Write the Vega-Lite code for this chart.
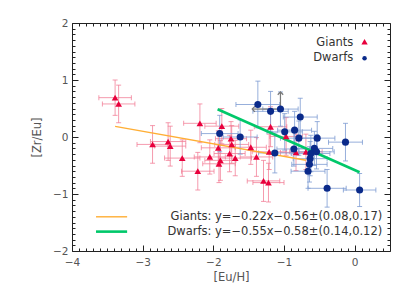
{
  "$schema": "https://vega.github.io/schema/vega-lite/v6.json",
  "width": 318,
  "height": 228,
  "autosize": "none",
  "padding": {"left": 72, "top": 23, "right": 21, "bottom": 46},
  "background": "white",
  "config": {
    "view": {"stroke": "#222222", "strokeWidth": 1},
    "font": "DejaVu Sans",
    "axis": {"grid": false, "domain": false, "labelFont": "DejaVu Sans", "titleFont": "DejaVu Sans", "labelColor": "#555555", "titleColor": "#555555", "tickColor": "#222222", "labelFontSize": 10.5, "titleFontSize": 11.5, "titleFontWeight": "normal", "labelFlush": false, "labelOverlap": false, "labelBound": false}
  },
  "datasets": {
    "giants": [
      {"x": -3.39, "y": 0.69, "ex": 0.23, "ey": 0.31},
      {"x": -3.34, "y": 0.58, "ex": 0.23, "ey": 0.33},
      {"x": -2.86, "y": -0.13, "ex": 0.22, "ey": 0.33},
      {"x": -2.64, "y": -0.08, "ex": 0.25, "ey": 0.33},
      {"x": -2.61, "y": -0.16, "ex": 0.22, "ey": 0.35},
      {"x": -2.44, "y": -0.37, "ex": 0.25, "ey": 0.32},
      {"x": -2.22, "y": -0.6, "ex": 0.23, "ey": 0.33},
      {"x": -2.19, "y": 0.24, "ex": 0.23, "ey": 0.34},
      {"x": -2.05, "y": -0.35, "ex": 0.22, "ey": 0.3},
      {"x": -1.93, "y": -0.19, "ex": 0.24, "ey": 0.3},
      {"x": -1.92, "y": -0.47, "ex": 0.23, "ey": 0.33},
      {"x": -1.9, "y": -0.41, "ex": 0.22, "ey": 0.35},
      {"x": -1.88, "y": 0.19, "ex": 0.24, "ey": 0.31},
      {"x": -1.75, "y": -0.03, "ex": 0.22, "ey": 0.3},
      {"x": -1.74, "y": -0.13, "ex": 0.24, "ey": 0.33},
      {"x": -1.77, "y": -0.29, "ex": 0.22, "ey": 0.32},
      {"x": -1.69, "y": -0.37, "ex": 0.23, "ey": 0.31},
      {"x": -1.47, "y": -0.18, "ex": 0.22, "ey": 0.3},
      {"x": -1.39, "y": -0.35, "ex": 0.23, "ey": 0.34},
      {"x": -1.29, "y": -0.77, "ex": 0.23, "ey": 0.36},
      {"x": -1.22, "y": -0.8, "ex": 0.22, "ey": 0.34},
      {"x": -1.21, "y": -0.26, "ex": 0.24, "ey": 0.31},
      {"x": -1.19, "y": 0.18, "ex": 0.23, "ey": 0.35},
      {"x": -0.97, "y": 0.01, "ex": 0.23, "ey": 0.33},
      {"x": -0.83, "y": -0.27, "ex": 0.22, "ey": 0.32},
      {"x": -0.69, "y": -0.26, "ex": 0.23, "ey": 0.31}
    ],
    "dwarfs": [
      {"x": -1.91, "y": 0.06, "ex": 0.26, "ey": 0.32},
      {"x": -1.62, "y": 0.0, "ex": 0.24, "ey": 0.3},
      {"x": -1.37, "y": 0.57, "ex": 0.31, "ey": 0.41},
      {"x": -1.19, "y": 0.45, "ex": 0.25, "ey": 0.35},
      {"x": -1.05, "y": 0.49, "ex": 0.25, "ey": 0.3},
      {"x": -1.13, "y": -0.28, "ex": 0.23, "ey": 0.35},
      {"x": -0.99, "y": 0.09, "ex": 0.25, "ey": 0.32},
      {"x": -0.85, "y": 0.12, "ex": 0.24, "ey": 0.33},
      {"x": -0.79, "y": -0.02, "ex": 0.26, "ey": 0.3},
      {"x": -0.77, "y": 0.35, "ex": 0.24, "ey": 0.33},
      {"x": -0.86, "y": -0.21, "ex": 0.24, "ey": 0.3},
      {"x": -0.53, "y": -0.02, "ex": 0.25, "ey": 0.29},
      {"x": -0.57, "y": -0.2, "ex": 0.26, "ey": 0.3},
      {"x": -0.62, "y": -0.29, "ex": 0.27, "ey": 0.32},
      {"x": -0.63, "y": -0.38, "ex": 0.24, "ey": 0.3},
      {"x": -0.64, "y": -0.48, "ex": 0.25, "ey": 0.31},
      {"x": -0.66, "y": -0.6, "ex": 0.24, "ey": 0.3},
      {"x": -0.54, "y": -0.26, "ex": 0.25, "ey": 0.3},
      {"x": -0.13, "y": -0.09, "ex": 0.24, "ey": 0.33},
      {"x": -0.39, "y": -0.9, "ex": 0.27, "ey": 0.33},
      {"x": 0.07, "y": -0.93, "ex": 0.23, "ey": 0.29}
    ],
    "limit": [
      {"x": -1.05, "y": 0.49, "x2": -1.05, "y2": 0.79, "dir": "up"},
      {"x": -1.05, "y": 0.49, "x2": -1.45, "y2": 0.49, "dir": "left"}
    ],
    "fits": [
      {"series": "Giants", "part": "fit", "x": -3.39, "y": 0.186},
      {"series": "Giants", "part": "fit", "x": -0.69, "y": -0.408},
      {"series": "Dwarfs", "part": "fit", "x": -1.94, "y": 0.487},
      {"series": "Dwarfs", "part": "fit", "x": 0.07, "y": -0.619},
      {"series": "Giants", "part": "key", "x": -3.66, "y": -1.4},
      {"series": "Giants", "part": "key", "x": -3.22, "y": -1.4},
      {"series": "Dwarfs", "part": "key", "x": -3.66, "y": -1.66},
      {"series": "Dwarfs", "part": "key", "x": -3.22, "y": -1.66}
    ],
    "texts": [
      {"x": -0.02, "y": 1.65, "text": "Giants"},
      {"x": -0.02, "y": 1.38, "text": "Dwarfs"},
      {"x": 0.39, "y": -1.4, "text": "Giants: y=−0.22x−0.56±(0.08,0.17)"},
      {"x": 0.39, "y": -1.66, "text": "Dwarfs: y=−0.55x−0.58±(0.14,0.12)"}
    ],
    "keys": [
      {"x": 0.14, "y": 1.67, "series": "Giants"},
      {"x": 0.14, "y": 1.38, "series": "Dwarfs"}
    ],
    "origin": [{"x": 0, "y": 0}]
  },
  "resolve": {"axis": {"x": "independent", "y": "independent"}},
  "layer": [
    {
      "data": {"name": "origin"},
      "mark": {"type": "point", "opacity": 0},
      "encoding": {
        "x": {"field": "x", "type": "quantitative", "scale": {"domain": [-4, 0.5], "nice": false, "zero": false},
          "axis": {"orient": "bottom", "values": [-4, -3, -2, -1, 0], "format": "d", "tickSize": -6, "labelPadding": 12, "title": "[Eu/H]", "titleY": 20, "titleBaseline": "top"}},
        "y": {"field": "y", "type": "quantitative", "scale": {"domain": [-2, 2], "nice": false, "zero": false},
          "axis": {"orient": "left", "values": [-2, -1, 0, 1, 2], "format": "d", "tickSize": -6, "labelPadding": 10, "title": "[Zr/Eu]", "titleX": -41, "titleBaseline": "top"}}
      }
    },
    {
      "data": {"name": "origin"},
      "mark": {"type": "point", "opacity": 0},
      "encoding": {
        "x": {"field": "x", "type": "quantitative",
          "axis": {"orient": "bottom", "values": [-3.9,-3.8,-3.7,-3.6,-3.5,-3.4,-3.3,-3.2,-3.1,-2.9,-2.8,-2.7,-2.6,-2.5,-2.4,-2.3,-2.2,-2.1,-1.9,-1.8,-1.7,-1.6,-1.5,-1.4,-1.3,-1.2,-1.1,-0.9,-0.8,-0.7,-0.6,-0.5,-0.4,-0.3,-0.2,-0.1,0.1,0.2,0.3,0.4], "tickSize": -3, "labels": false, "title": null}},
        "y": {"field": "y", "type": "quantitative",
          "axis": {"orient": "left", "values": [-1.9,-1.8,-1.7,-1.6,-1.5,-1.4,-1.3,-1.2,-1.1,-0.9,-0.8,-0.7,-0.6,-0.5,-0.4,-0.3,-0.2,-0.1,0.1,0.2,0.3,0.4,0.5,0.6,0.7,0.8,0.9,1.1,1.2,1.3,1.4,1.5,1.6,1.7,1.8,1.9], "tickSize": -3, "labels": false, "title": null}}
      }
    },
    {
      "data": {"name": "origin"},
      "mark": {"type": "point", "opacity": 0},
      "encoding": {
        "x": {"field": "x", "type": "quantitative",
          "axis": {"orient": "top", "values": [-4, -3, -2, -1, 0], "tickSize": -6, "labels": false, "title": null}},
        "y": {"field": "y", "type": "quantitative",
          "axis": {"orient": "right", "values": [-2, -1, 0, 1, 2], "tickSize": -6, "labels": false, "title": null}}
      }
    },
    {
      "data": {"name": "origin"},
      "mark": {"type": "point", "opacity": 0},
      "encoding": {
        "x": {"field": "x", "type": "quantitative",
          "axis": {"orient": "top", "values": [-3.9,-3.8,-3.7,-3.6,-3.5,-3.4,-3.3,-3.2,-3.1,-2.9,-2.8,-2.7,-2.6,-2.5,-2.4,-2.3,-2.2,-2.1,-1.9,-1.8,-1.7,-1.6,-1.5,-1.4,-1.3,-1.2,-1.1,-0.9,-0.8,-0.7,-0.6,-0.5,-0.4,-0.3,-0.2,-0.1,0.1,0.2,0.3,0.4], "tickSize": -3, "labels": false, "title": null}},
        "y": {"field": "y", "type": "quantitative",
          "axis": {"orient": "right", "values": [-1.9,-1.8,-1.7,-1.6,-1.5,-1.4,-1.3,-1.2,-1.1,-0.9,-0.8,-0.7,-0.6,-0.5,-0.4,-0.3,-0.2,-0.1,0.1,0.2,0.3,0.4,0.5,0.6,0.7,0.8,0.9,1.1,1.2,1.3,1.4,1.5,1.6,1.7,1.8,1.9], "tickSize": -3, "labels": false, "title": null}}
      }
    },
    {
      "data": {"name": "giants"},
      "mark": {"type": "errorbar", "ticks": {"size": 5}, "color": "#f27a93", "opacity": 0.75, "thickness": 1},
      "encoding": {
        "x": {"field": "x", "type": "quantitative", "axis": null},
        "xError": {"field": "ex"},
        "y": {"field": "y", "type": "quantitative", "axis": null}
      }
    },
    {
      "data": {"name": "giants"},
      "mark": {"type": "errorbar", "ticks": {"size": 5}, "color": "#f27a93", "opacity": 0.75, "thickness": 1},
      "encoding": {
        "y": {"field": "y", "type": "quantitative", "axis": null},
        "yError": {"field": "ey"},
        "x": {"field": "x", "type": "quantitative", "axis": null}
      }
    },
    {
      "data": {"name": "dwarfs"},
      "mark": {"type": "errorbar", "ticks": {"size": 5}, "color": "#7d9bd2", "opacity": 0.8, "thickness": 1},
      "encoding": {
        "x": {"field": "x", "type": "quantitative", "axis": null},
        "xError": {"field": "ex"},
        "y": {"field": "y", "type": "quantitative", "axis": null}
      }
    },
    {
      "data": {"name": "dwarfs"},
      "mark": {"type": "errorbar", "ticks": {"size": 5}, "color": "#7d9bd2", "opacity": 0.8, "thickness": 1},
      "encoding": {
        "y": {"field": "y", "type": "quantitative", "axis": null},
        "yError": {"field": "ey"},
        "x": {"field": "x", "type": "quantitative", "axis": null}
      }
    },
    {
      "data": {"name": "limit"},
      "mark": {"type": "rule", "color": "#777777", "strokeWidth": 1.2},
      "encoding": {
        "x": {"field": "x", "type": "quantitative", "axis": null},
        "y": {"field": "y", "type": "quantitative", "axis": null},
        "x2": {"field": "x2"},
        "y2": {"field": "y2"}
      }
    },
    {
      "data": {"name": "limit"},
      "mark": {"type": "point", "filled": false, "color": "#777777", "strokeWidth": 1.2, "size": 30, "opacity": 1},
      "encoding": {
        "x": {"field": "x2", "type": "quantitative", "axis": null},
        "y": {"field": "y2", "type": "quantitative", "axis": null},
        "shape": {"field": "dir", "type": "nominal", "legend": null,
          "scale": {"domain": ["up", "left"], "range": ["M-1,1L0,0L1,1", "M1,-1L0,0L1,1"]}}
      }
    },
    {
      "data": {"name": "fits"},
      "mark": {"type": "line"},
      "encoding": {
        "x": {"field": "x", "type": "quantitative", "axis": null},
        "y": {"field": "y", "type": "quantitative", "axis": null},
        "detail": {"field": "part"},
        "color": {"field": "series", "type": "nominal", "legend": null, "scale": {"domain": ["Giants", "Dwarfs"], "range": ["#ffae35", "#00c86a"]}},
        "strokeWidth": {"field": "series", "type": "nominal", "legend": null, "scale": {"domain": ["Giants", "Dwarfs"], "range": [1.4, 2.6]}}
      }
    },
    {
      "data": {"name": "giants"},
      "mark": {"type": "point", "shape": "triangle-up", "filled": true, "color": "#e8003c", "size": 45, "opacity": 1},
      "encoding": {
        "x": {"field": "x", "type": "quantitative", "axis": null},
        "y": {"field": "y", "type": "quantitative", "axis": null}
      }
    },
    {
      "data": {"name": "dwarfs"},
      "mark": {"type": "circle", "color": "#0a2a8a", "size": 50, "opacity": 1},
      "encoding": {
        "x": {"field": "x", "type": "quantitative", "axis": null},
        "y": {"field": "y", "type": "quantitative", "axis": null}
      }
    },
    {
      "data": {"name": "keys"},
      "transform": [{"filter": "datum.series === 'Giants'"}],
      "mark": {"type": "point", "shape": "triangle-up", "filled": true, "color": "#e8003c", "size": 40, "opacity": 1},
      "encoding": {
        "x": {"field": "x", "type": "quantitative", "axis": null},
        "y": {"field": "y", "type": "quantitative", "axis": null}
      }
    },
    {
      "data": {"name": "keys"},
      "transform": [{"filter": "datum.series === 'Dwarfs'"}],
      "mark": {"type": "circle", "color": "#0a2a8a", "size": 20, "opacity": 1},
      "encoding": {
        "x": {"field": "x", "type": "quantitative", "axis": null},
        "y": {"field": "y", "type": "quantitative", "axis": null}
      }
    },
    {
      "data": {"name": "texts"},
      "mark": {"type": "text", "align": "right", "baseline": "middle", "fontSize": 11.5, "color": "#333333", "font": "DejaVu Sans"},
      "encoding": {
        "x": {"field": "x", "type": "quantitative", "axis": null},
        "y": {"field": "y", "type": "quantitative", "axis": null},
        "text": {"field": "text"}
      }
    }
  ]
}
